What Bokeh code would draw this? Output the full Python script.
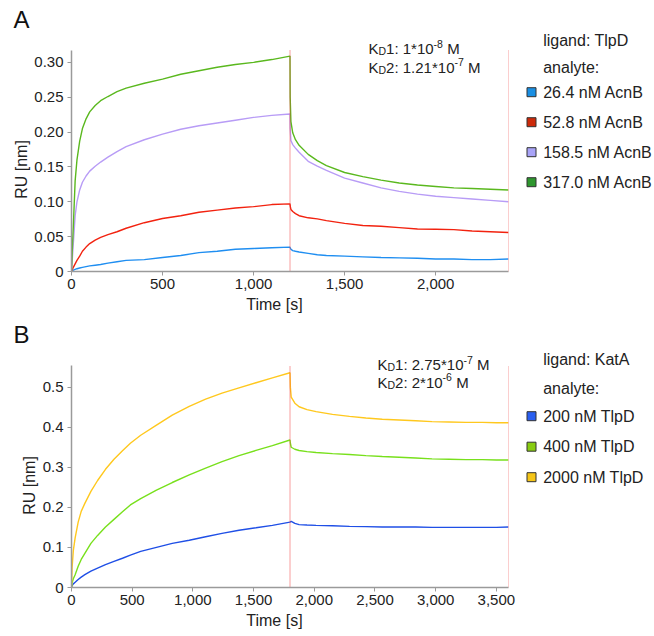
import math
from bokeh.plotting import figure
from bokeh.models import Range1d, Label, FixedTicker, NumeralTickFormatter, ColumnDataSource
from bokeh.layouts import row, column
from bokeh.embed import file_html
from bokeh.resources import INLINE

FONT = "Liberation Sans"

# ---------------- Panel A data (ligand TlpD, analyte AcnB) ----------------
tA = [0, 5, 10, 20, 30, 45, 60, 80, 100, 130, 160, 200, 250, 300, 400, 500, 600, 700, 800,
      900, 1000, 1100, 1200,
      1201, 1205, 1215, 1230, 1250, 1300, 1350, 1400, 1500, 1600, 1700, 1800, 1900, 2000,
      2100, 2200, 2300, 2400]
a_26_4 = [0, 0.001, 0.002, 0.003, 0.004, 0.005, 0.006, 0.007, 0.008, 0.009, 0.010, 0.012, 0.014,
          0.016, 0.017, 0.020, 0.023, 0.027, 0.029, 0.032, 0.033, 0.034, 0.035,
          0.034, 0.032, 0.030, 0.029, 0.028, 0.026, 0.024, 0.023, 0.022, 0.021, 0.020, 0.0195,
          0.019, 0.018, 0.018, 0.017, 0.017, 0.018]
a_52_8 = [0, 0.003, 0.006, 0.011, 0.016, 0.022, 0.029, 0.035, 0.040, 0.045, 0.049, 0.053, 0.057,
          0.062, 0.070, 0.076, 0.080, 0.085, 0.088, 0.091, 0.093, 0.096, 0.097,
          0.094, 0.089, 0.086, 0.083, 0.080, 0.077, 0.0755, 0.073, 0.069, 0.066, 0.065, 0.063,
          0.061, 0.0605, 0.060, 0.058, 0.057, 0.056]
a_158_5 = [0, 0.02, 0.04, 0.08, 0.10, 0.117, 0.128, 0.137, 0.144, 0.151, 0.157, 0.164, 0.172,
           0.179, 0.189, 0.197, 0.204, 0.209, 0.213, 0.217, 0.221, 0.224, 0.226,
           0.205, 0.188, 0.182, 0.177, 0.171, 0.158, 0.151, 0.145, 0.134, 0.127, 0.120, 0.115,
           0.111, 0.108, 0.106, 0.104, 0.102, 0.100]
a_317_0 = [0, 0.035, 0.065, 0.13, 0.16, 0.187, 0.205, 0.219, 0.229, 0.238, 0.245, 0.251, 0.258,
           0.263, 0.270, 0.276, 0.283, 0.288, 0.293, 0.297, 0.300, 0.304, 0.309,
           0.25, 0.215, 0.199, 0.189, 0.181, 0.168, 0.159, 0.152, 0.142, 0.136, 0.131, 0.127,
           0.124, 0.122, 0.120, 0.119, 0.118, 0.117]
seriesA = [a_26_4, a_52_8, a_158_5, a_317_0]
namesA = ["26.4 nM AcnB", "52.8 nM AcnB", "158.5 nM AcnB", "317.0 nM AcnB"]
lineColA = ["#1f8ef1", "#f2220f", "#b89cf6", "#5ab81e"]
boxColA = ["#1a8fe3", "#cc2a0a", "#a8a3f7", "#2e962e"]
switchA = 1200
endA = 2400
ymaxA = 0.317
yTicksA = [0, 0.05, 0.10, 0.15, 0.20, 0.25, 0.30]
yLabelsA = ["0", "0.05", "0.10", "0.15", "0.20", "0.25", "0.30"]
xTicksA = [0, 500, 1000, 1500, 2000]

# ---------------- Panel B data (ligand KatA, analyte TlpD) ----------------
tB = [0, 5, 15, 30, 55, 80, 110, 160, 215, 280, 350, 420, 485, 570, 700, 830, 970, 1105, 1240,
      1380, 1520, 1655, 1800,
      1803, 1810, 1840, 1875, 1940, 2015, 2150, 2290, 2425, 2560, 2700, 2835, 2970, 3110, 3250,
      3385, 3500, 3600]
b_200 = [0, 0.005, 0.009, 0.013, 0.02, 0.026, 0.032, 0.041, 0.0486, 0.057, 0.065, 0.073, 0.081,
         0.09, 0.10, 0.110, 0.118, 0.1265, 0.135, 0.143, 0.149, 0.155, 0.163,
         0.164, 0.165, 0.160, 0.157, 0.156, 0.155, 0.154, 0.1525, 0.152, 0.151, 0.151, 0.151,
         0.150, 0.150, 0.150, 0.150, 0.150, 0.151]
b_400 = [0, 0.012, 0.022, 0.032, 0.053, 0.07, 0.085, 0.11, 0.13, 0.151, 0.17, 0.189, 0.206,
         0.222, 0.243, 0.262, 0.281, 0.298, 0.314, 0.329, 0.342, 0.354, 0.368,
         0.360, 0.350, 0.345, 0.342, 0.339, 0.337, 0.334, 0.332, 0.329, 0.327, 0.325, 0.323,
         0.321, 0.320, 0.319, 0.319, 0.318, 0.318]
b_2000 = [0, 0.05, 0.092, 0.124, 0.163, 0.19, 0.21, 0.24, 0.267, 0.295, 0.32, 0.341, 0.36,
          0.38, 0.405, 0.43, 0.452, 0.47, 0.485, 0.498, 0.511, 0.523, 0.536,
          0.50, 0.475, 0.46, 0.451, 0.444, 0.439, 0.432, 0.427, 0.423, 0.420, 0.418, 0.416,
          0.414, 0.413, 0.412, 0.412, 0.411, 0.411]
seriesB = [b_200, b_400, b_2000]
namesB = ["200 nM TlpD", "400 nM TlpD", "2000 nM TlpD"]
lineColB = ["#1f4fe6", "#78e01c", "#ffc81e"]
boxColB = ["#2a5ff0", "#88cc11", "#f5c518"]
switchB = 1800
endB = 3600
ymaxB = 0.554
yTicksB = [0, 0.1, 0.2, 0.3, 0.4, 0.5]
yLabelsB = ["0", "0.1", "0.2", "0.3", "0.4", "0.5"]
xTicksB = [0, 500, 1000, 1500, 2000, 2500, 3000, 3500]

kdA = [[("K", 15, 0), ("D", 10.5, -2.5), ("1: 1*10", 15, 0), ("-8", 10.5, 5), (" M", 15, 0)],
       [("K", 15, 0), ("D", 10.5, -2.5), ("2: 1.21*10", 15, 0), ("-7", 10.5, 5), (" M", 15, 0)]]
kdB = [[("K", 15, 0), ("D", 10.5, -2.5), ("1: 2.75*10", 15, 0), ("-7", 10.5, 5), (" M", 15, 0)],
       [("K", 15, 0), ("D", 10.5, -2.5), ("2: 2*10", 15, 0), ("-6", 10.5, 5), (" M", 15, 0)]]

# Arial/Liberation Sans advance widths (em)
WID = {" ": 0.278, ".": 0.278, ":": 0.278, "*": 0.389, "-": 0.333, "K": 0.667, "D": 0.722,
       "M": 0.833}


def text_width(s, size):
    return sum(WID.get(c, 0.556) for c in s) * size


PAGE_W = 654
FRAME_W = 437
RIGHT = 10
BOTTOM = 47
TEXT = "#222222"


def blank_fig(w, h):
    f = figure(width=w, height=h, x_range=Range1d(0, w), y_range=Range1d(h, 0),
               output_backend="svg", toolbar_location=None, min_border=0, title=None,
               x_axis_location=None, y_axis_location=None)
    f.frame_align = False
    f.outline_line_color = None
    f.grid.visible = False
    return f


def make_main(t, series, colors, switch, end, ymax, yticks, ylabels, xticks,
              left_border, frame_h, axis_px, kd_lines, kd_x, kd_bases):
    yend = ymax * frame_h / axis_px
    p = figure(frame_width=FRAME_W, frame_height=frame_h,
               x_range=Range1d(0, end), y_range=Range1d(0, yend),
               output_backend="svg", toolbar_location=None, title=None,
               min_border_left=left_border, min_border_right=RIGHT,
               min_border_top=0, min_border_bottom=BOTTOM)
    p.frame_align = False
    p.outline_line_color = None
    p.grid.visible = False

    for ys, c in zip(series, colors):
        src = ColumnDataSource(dict(t=t, y=ys))
        p.line("t", "y", source=src, line_color=c, line_width=1.4)

    p.segment(x0=[switch, end], y0=[0, 0], x1=[switch, end], y1=[ymax, ymax],
              line_color="#f03c3c", line_width=1, line_dash="1 1")

    for ax in (p.xaxis[0], p.yaxis[0]):
        ax.axis_line_color = "#9a9a9a"
        ax.axis_line_width = 1.5
        ax.major_tick_line_color = "#9a9a9a"
        ax.major_tick_out = 4
        ax.major_tick_in = 0
        ax.minor_tick_line_color = None
        ax.major_label_text_font = FONT
        ax.major_label_text_font_size = "15px"
        ax.major_label_text_color = TEXT
        ax.axis_label_text_font = FONT
        ax.axis_label_text_font_size = "16px"
        ax.axis_label_text_font_style = "normal"
        ax.axis_label_text_color = TEXT

    p.xaxis.ticker = FixedTicker(ticks=xticks)
    p.xaxis.formatter = NumeralTickFormatter(format="0,0")
    p.xaxis.axis_label = "Time [s]" + "\u00a0" * 7
    p.xaxis.major_label_standoff = 3
    p.xaxis.axis_label_standoff = 4

    p.yaxis.ticker = FixedTicker(ticks=yticks)
    p.yaxis.bounds = (0, ymax)
    p.yaxis.major_label_overrides = {v: s for v, s in zip(yticks, ylabels)}
    p.yaxis.major_label_standoff = 4

    for parts, yb in zip(kd_lines, kd_bases):
        x = kd_x
        for txt, size, dy in parts:
            lead = len(txt) - len(txt.lstrip(" "))
            x += text_width(" " * lead, size)
            core = txt.lstrip(" ")
            p.add_layout(Label(x=x, y=yb + dy, x_units="screen", y_units="screen", text=core,
                               text_font=FONT, text_font_size=f"{size}px",
                               text_baseline="alphabetic", text_color=TEXT))
            x += text_width(core, size)
    return p


def make_side(w, h, letter, letter_y, rux, ruy):
    f = blank_fig(w, h)
    f.text(x=[13], y=[letter_y], text=[letter], text_font_size="24px", text_baseline="middle",
           text_align="left", text_color="#111111", text_font={"value": FONT})
    f.text(x=[rux], y=[ruy], text=["RU [nm]"], angle=math.pi / 2, text_font_size="16px",
           text_baseline="middle", text_align="center", text_color=TEXT,
           text_font={"value": FONT})
    return f


def make_legend(w, h, ligand, names, boxcols, y_lig, y_ana, y_first, step):
    lg = blank_fig(w, h)
    ys = [y_first + step * i for i in range(len(names))]
    lg.scatter(x=[13] * len(names), y=ys, marker="square", size=9, fill_color=boxcols,
               line_color="#333333", line_width=1)
    tx = [24.7] * (len(names) + 2)
    ty = [y_lig, y_ana] + ys
    tt = [ligand, "analyte:"] + names
    lg.text(x=tx, y=ty, text=tt, text_font_size="16px", text_baseline="middle",
            text_align="left", text_color=TEXT, text_font={"value": FONT})
    return lg


# Row A: page rows 0..318, frame 0..271, axis from 50 to 271
frameA = 271
HA = frameA + BOTTOM
sideA_w, borderA = 31, 38
pA = make_main(tA, seriesA, lineColA, switchA, endA, ymaxA, yTicksA, yLabelsA, xTicksA,
               borderA, frameA, 221, kdA, 297, [222.7, 204.3])
sA = make_side(sideA_w, HA, "A", 18.5, 21, 169)
legW_A = PAGE_W - sideA_w - borderA - FRAME_W - RIGHT
lA = make_legend(legW_A, HA, "ligand: TlpD", namesA, boxColA, 40, 66.7, 91.7, 30)

# Row B: page rows 318..634, frame 318..587, axis from 365 to 587
frameB = 269
HB = frameB + BOTTOM
sideB_w, borderB = 39, 30
pB = make_main(tB, seriesB, lineColB, switchB, endB, ymaxB, yTicksB, yLabelsB, xTicksB,
               borderB, frameB, 222, kdB, 306, [222.7, 205.3])
sB = make_side(sideB_w, HB, "B", 16, 28.5, 167)
legW_B = PAGE_W - sideB_w - borderB - FRAME_W - RIGHT
lB = make_legend(legW_B, HB, "ligand: KatA", namesB, boxColB, 41.3, 70.3, 97.7, 30.5)

layout = column(row(sA, pA, lA), row(sB, pB, lB))
open("out.html", "w").write(file_html(layout, INLINE))
